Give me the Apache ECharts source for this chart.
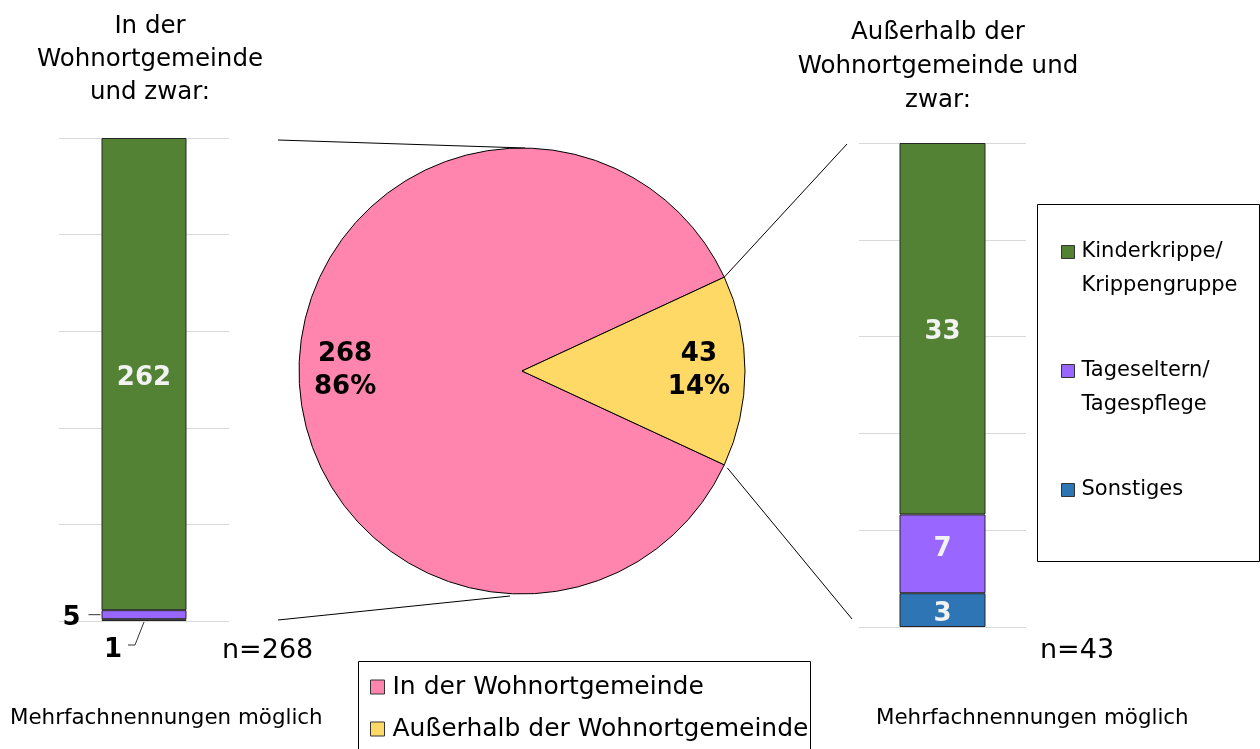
<!DOCTYPE html>
<html>
<head>
<meta charset="utf-8">
<script src="https://cdn.jsdelivr.net/npm/echarts@6/dist/echarts.min.js"></script>
<style>
    html, body { margin: 0; padding: 0; background: #fff; }
    #chart { width: 1260px; height: 749px; }
</style>
</head>
<body>
<div id="chart"></div>
<script>
    // data
    var pieNames = ['In der Wohnortgemeinde', 'Außerhalb der Wohnortgemeinde'];
    var pieValues = [268, 43];
    var barNames = ['Sonstiges', 'Tageseltern/Tagespflege', 'Kinderkrippe/Krippengruppe'];
    var leftValues = [1, 5, 262];
    var rightValues = [3, 7, 33];
    var leftMax = 268;
    var rightMax = 43;

    var pieColors = ['#FF85AE', '#FFD966'];
    var barColors = ['#2E75B6', '#9966FF', '#548235'];
    var legendText = {
        'Kinderkrippe/Krippengruppe': '\nKinderkrippe/\nKrippengruppe',
        'Tageseltern/Tagespflege': '\nTageseltern/\nTagespflege',
        'Sonstiges': '\nSonstiges\n'
    };
    var font = 'DejaVu Sans';

    var chart = echarts.init(document.getElementById('chart'));

    var total = pieValues[0] + pieValues[1];
    var half = pieValues[1] / total * 180;
    var pieCenter = [522, 371];
    var pieR = 223;

    function extend(a, b) {
        for (var k in b) {
            if (b.hasOwnProperty(k)) a[k] = b[k];
        }
        return a;
    }

    function barLabel(idx, side) {
        var base = { show: true, fontFamily: font, fontSize: 26, fontWeight: 'bold', color: '#F2F2F2', position: 'inside', offset: [0, 4] };
        if (side == 'left' && idx == 0) {
            return extend(base, { color: '#000', position: 'bottom', distance: 5, offset: [-31, 11] });
        }
        if (side == 'left' && idx == 1) {
            return extend(base, { color: '#000', position: 'left', distance: 21, offset: [0, 4] });
        }
        if (side == 'right' && idx == 1) {
            return extend(base, { offset: [0, -5] });
        }
        return base;
    }

    function buildBars(values, side, axisIndex) {
        return values.map(function (v, i) {
            return {
                name: barNames[i],
                type: 'bar',
                stack: side,
                xAxisIndex: axisIndex,
                yAxisIndex: axisIndex,
                barWidth: side == 'left' ? 85 : 86,
                itemStyle: { color: barColors[i], borderColor: '#262626', borderWidth: 1 },
                label: barLabel(i, side),
                data: [v]
            };
        });
    }

    function buildYAxis(gridIndex, max) {
        return {
            type: 'value',
            gridIndex: gridIndex,
            min: 0,
            max: max,
            interval: max / 5,
            axisLine: { show: false },
            axisTick: { show: false },
            axisLabel: { show: false },
            splitLine: { lineStyle: { color: '#D9D9D9', width: 1 } }
        };
    }

    function buildXAxis(gridIndex) {
        return {
            type: 'category',
            gridIndex: gridIndex,
            data: ['x'],
            axisLine: { show: false },
            axisTick: { show: false },
            axisLabel: { show: false }
        };
    }

    var pieData = pieNames.map(function (n, i) {
        return { name: n, value: pieValues[i], itemStyle: { color: pieColors[i] } };
    });

    var texts = [
        { type: 'text', x: 150, y: 60, style: { text: 'In der\nWohnortgemeinde\nund zwar:', font: '24.5px "DejaVu Sans"', lineHeight: 33, fill: '#000', align: 'center', verticalAlign: 'middle' } },
        { type: 'text', x: 938, y: 67, style: { text: 'Außerhalb der\nWohnortgemeinde und\nzwar:', font: '24.5px "DejaVu Sans"', lineHeight: 34, fill: '#000', align: 'center', verticalAlign: 'middle' } },
        { type: 'text', x: 222, y: 651, style: { text: 'n=268', font: '27px "DejaVu Sans"', fill: '#000', align: 'left', verticalAlign: 'middle' } },
        { type: 'text', x: 1040, y: 651, style: { text: 'n=43', font: '27px "DejaVu Sans"', fill: '#000', align: 'left', verticalAlign: 'middle' } },
        { type: 'text', x: 10, y: 718, style: { text: 'Mehrfachnennungen möglich', font: '21.4px "DejaVu Sans"', fill: '#000', align: 'left', verticalAlign: 'middle' } },
        { type: 'text', x: 876, y: 718, style: { text: 'Mehrfachnennungen möglich', font: '21.4px "DejaVu Sans"', fill: '#000', align: 'left', verticalAlign: 'middle' } },
        { type: 'rect', shape: { x: 1037.5, y: 204.5, width: 222, height: 357 }, style: { fill: 'none', stroke: '#000', lineWidth: 1 } },
        { type: 'rect', shape: { x: 358.5, y: 661.5, width: 452, height: 100 }, style: { fill: 'none', stroke: '#000', lineWidth: 1 } }
    ];

    chart.setOption({
        animation: false,
        textStyle: { fontFamily: font },
        legend: [{
            data: pieNames,
            orient: 'vertical',
            left: 370,
            top: 672,
            padding: 0,
            itemWidth: 14,
            itemHeight: 14,
            itemGap: 12,
            icon: 'rect',
            itemStyle: { borderColor: '#333', borderWidth: 1 },
            textStyle: { fontFamily: font, fontSize: 25, lineHeight: 30, color: '#000', padding: [0, 0, 0, 3] }
        }, {
            data: barNames.slice().reverse(),
            orient: 'vertical',
            left: 1061,
            top: 201,
            padding: 0,
            itemWidth: 13,
            itemHeight: 13,
            itemGap: 17,
            icon: 'rect',
            itemStyle: { borderColor: '#333', borderWidth: 1 },
            formatter: function (name) { return legendText[name]; },
            textStyle: { fontFamily: font, fontSize: 21, lineHeight: 34, color: '#000', padding: [0, 0, 0, 2] }
        }],
        grid: [
            { left: 59, top: 138, width: 170, height: 483 },
            { left: 859, top: 143, width: 167, height: 484 }
        ],
        xAxis: [buildXAxis(0), buildXAxis(1)],
        yAxis: [buildYAxis(0, leftMax), buildYAxis(1, rightMax)],
        series: buildBars(leftValues, 'left', 0).concat(buildBars(rightValues, 'right', 1)).concat([{
            name: 'pie',
            type: 'pie',
            center: pieCenter,
            radius: pieR,
            startAngle: 360 - half,
            clockwise: true,
            label: { show: false },
            labelLine: { show: false },
            itemStyle: { borderColor: '#000', borderWidth: 1 },
            emphasis: { disabled: true },
            data: pieData
        }, {
            name: 'pieLabels',
            type: 'pie',
            center: pieCenter,
            radius: [pieR * 0.56, pieR],
            startAngle: 360 - half,
            clockwise: true,
            silent: true,
            percentPrecision: 0,
            itemStyle: { color: 'rgba(0,0,0,0)', borderWidth: 0 },
            label: {
                show: true,
                position: 'inside',
                formatter: '{c}\n{d}%',
                fontFamily: font,
                fontSize: 26,
                fontWeight: 'bold',
                lineHeight: 33,
                padding: [6, 0, 0, 0],
                color: '#000'
            },
            labelLine: { show: false },
            emphasis: { disabled: true },
            data: pieNames.map(function (n, i) { return { name: n, value: pieValues[i] }; })
        }]),
        graphic: texts
    });

    // connector and leader lines from the drawn positions
    function px(axis, value) {
        return chart.convertToPixel({ xAxisIndex: axis, yAxisIndex: axis }, ['x', value]);
    }

    var lTop = px(0, leftMax), lBottom = px(0, 0);
    var rTop = px(1, rightMax), rBottom = px(1, 0);
    var lGridRight = lTop[0] + 85;
    var rGridLeft = rTop[0] - 83.5;
    var rad = half * Math.PI / 180;
    var edgeUp = [pieCenter[0] + pieR * Math.cos(rad), pieCenter[1] - pieR * Math.sin(rad)];
    var edgeDown = [pieCenter[0] + pieR * Math.cos(rad), pieCenter[1] + pieR * Math.sin(rad)];
    var mid5 = px(0, leftValues[0] + leftValues[1] / 2);
    var barLeft = lBottom[0] - 42.5;

    function line(points, color) {
        return { type: 'polyline', shape: { points: points }, style: { stroke: color || '#000', lineWidth: 1, fill: null } };
    }

    var lines = [
        line([[lGridRight + 49, lTop[1] + 2], [pieCenter[0] + 3, pieCenter[1] - pieR]]),
        line([[lGridRight + 49, lBottom[1] - 1], [pieCenter[0] - 12, pieCenter[1] + pieR + 2]]),
        line([edgeUp, [rGridLeft - 12, rTop[1] + 1]]),
        line([[edgeDown[0] + 3, edgeDown[1] + 3], [rGridLeft - 7, rBottom[1] - 8]]),
        line([[barLeft - 13, mid5[1]], [barLeft - 1, mid5[1]]], '#333'),
        line([[lBottom[0] - 16, lBottom[1] + 24], [lBottom[0] - 9, lBottom[1] + 24], [lBottom[0], lBottom[1] + 1]], '#333')
    ];

    chart.setOption({ graphic: texts.concat(lines) });
</script>
</body>
</html>
